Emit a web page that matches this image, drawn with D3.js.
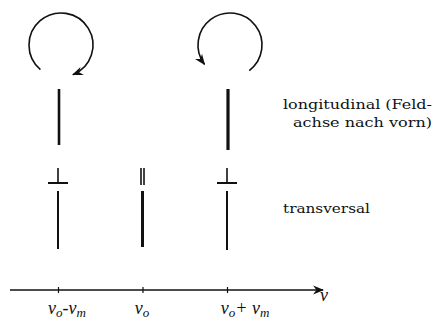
<!DOCTYPE html>
<html>
<head>
	<style>
		body { margin: 0; background: #fff; }
		svg { display: block; }
		.lbl { font-family: "DejaVu Serif", serif; font-size: 12px; fill: #111; }
		.nu { font-family: "Liberation Serif", serif; font-style: italic; font-size: 18px; fill: #111; }
	</style>
	<script src="https://cdn.jsdelivr.net/npm/d3@7"></script>
</head>
<body>
<div id="chart"></div>
<script>
	// Zeeman components, in units of the Larmor shift
	var shifts = [-1, 0, 1];
	var tickLabels = [["ν", "o", "-ν", "m"], ["ν", "o"], ["ν", "o", "+ ν", "m"]];
	var longShifts = [-1, 1];
	var longLength = [56, 61];
	var longSense = ["cw", "ccw"];
	var transShifts = [-1, 0, 1];
	var transLength = [58, 56, 59];
	var transPol = ["perp", "par", "perp"];

	var width = 436, height = 322;
	var svg = d3.select("#chart").append("svg")
		.attr("width", width).attr("height", height);

	var x = d3.scaleLinear().domain([-1, 1]).range([58, 227]);
	var axisY = 290;

	var defs = svg.append("defs");
	defs.append("marker")
		.attr("id", "arr")
		.attr("viewBox", "0 0 10 10")
		.attr("refX", 9).attr("refY", 5)
		.attr("markerWidth", 11).attr("markerHeight", 11)
		.attr("markerUnits", "userSpaceOnUse")
		.attr("orient", "auto")
		.append("path")
		.attr("d", "M0,1 L10,5 L0,9 L3,5 Z")
		.attr("fill", "#111");

	// circular polarisation arrows over the longitudinal lines
	var r = 32, cy = 45;
	longShifts.forEach(function (s, i) {
		var p = d3.path();
		var cx = x(s) + 3;
		var deg = Math.PI / 180;
		if (longSense[i] == "cw") {
			p.arc(cx, cy, r, 130 * deg, 428 * deg, false);
		} else {
			p.arc(cx, cy, r, 53 * deg, -217 * deg, true);
		}
		svg.append("path")
			.attr("d", p.toString())
			.attr("fill", "none")
			.attr("stroke", "#111")
			.attr("stroke-width", 1.6)
			.attr("marker-end", "url(#arr)");
	});

	// longitudinal lines
	svg.selectAll(".long")
		.data(longShifts)
		.enter().append("line")
		.attr("class", "long")
		.attr("x1", function (d) { return x(d) + 1; })
		.attr("x2", function (d) { return x(d) + 1; })
		.attr("y1", 89)
		.attr("y2", function (d, i) { return 89 + longLength[i]; })
		.attr("stroke", "#111")
		.attr("stroke-width", function (d, i) { return i == 0 ? 2.6 : 3.2; });

	// transversal lines
	svg.selectAll(".trans")
		.data(transShifts)
		.enter().append("line")
		.attr("class", "trans")
		.attr("x1", function (d) { return x(d); })
		.attr("x2", function (d) { return x(d); })
		.attr("y1", 191)
		.attr("y2", function (d, i) { return 191 + transLength[i]; })
		.attr("stroke", "#111")
		.attr("stroke-width", function (d, i) { return transPol[i] == "par" ? 3 : 2; });

	// polarisation symbols
	transShifts.forEach(function (s, i) {
		var g = svg.append("g").attr("stroke", "#111");
		if (transPol[i] == "perp") {
			g.append("line").attr("x1", x(s)).attr("x2", x(s))
				.attr("y1", 168).attr("y2", 183).attr("stroke-width", 1.6);
			g.append("line").attr("x1", x(s) - 10).attr("x2", x(s) + 10)
				.attr("y1", 183).attr("y2", 183).attr("stroke-width", 2);
		} else {
			[-1.5, 1.5].forEach(function (o) {
				g.append("line").attr("x1", x(s) + o).attr("x2", x(s) + o)
					.attr("y1", 168).attr("y2", 185).attr("stroke-width", 1.6);
			});
		}
	});

	// frequency axis
	svg.append("line")
		.attr("x1", 10).attr("x2", 323)
		.attr("y1", axisY).attr("y2", axisY)
		.attr("stroke", "#111").attr("stroke-width", 1.4)
		.attr("marker-end", "url(#arr)");

	var axis = d3.axisBottom(x).tickValues(shifts).tickSize(6).tickFormat("");
	var ax = svg.append("g")
		.attr("transform", "translate(0," + (axisY - 3) + ")")
		.call(axis);
	ax.select(".domain").remove();
	ax.selectAll(".tick line").attr("stroke", "#111").attr("stroke-width", 1.2);

	var lx = [67, 142, 245];
	shifts.forEach(function (s, i) {
		var t = svg.append("text").attr("class", "nu")
			.attr("x", lx[i]).attr("y", 314)
			.attr("text-anchor", "middle");
		var parts = tickLabels[i];
		parts.forEach(function (p, j) {
			var ts = t.append("tspan").text(p);
			if (j % 2 == 1) ts.attr("font-size", 13).attr("dy", 3);
			else if (j > 0) ts.attr("dy", -3);
		});
	});
	svg.append("text").attr("class", "nu")
		.attr("x", 320).attr("y", 301).text("ν");

	// side labels
	svg.append("text").attr("class", "lbl")
		.attr("x", 432).attr("y", 109).attr("text-anchor", "end")
		.attr("textLength", 149).attr("lengthAdjust", "spacingAndGlyphs")
		.text("longitudinal (Feld-");
	svg.append("text").attr("class", "lbl")
		.attr("x", 432).attr("y", 127).attr("text-anchor", "end")
		.attr("textLength", 139).attr("lengthAdjust", "spacingAndGlyphs")
		.text("achse nach vorn)");
	svg.append("text").attr("class", "lbl")
		.attr("x", 283).attr("y", 213)
		.attr("textLength", 87).attr("lengthAdjust", "spacingAndGlyphs")
		.text("transversal");
</script>
</body>
</html>
